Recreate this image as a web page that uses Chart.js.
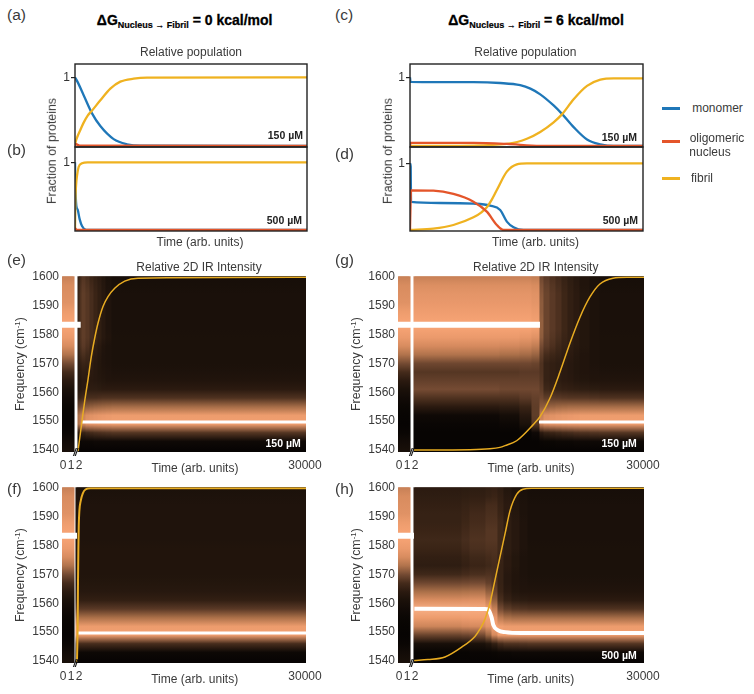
<!DOCTYPE html>
<html>
<head>
<meta charset="utf-8">
<title>Relative population and 2D IR intensity</title>
<script src="https://cdn.jsdelivr.net/npm/chart.js@4/dist/chart.umd.min.js"></script>
<style>
  html, body { margin: 0; padding: 0; background: #fff; }
  #page { position: relative; width: 754px; height: 694px; overflow: hidden; font-family: "Liberation Sans", Arial, sans-serif; color: #3a3a3a; }
  canvas { position: absolute; }
  .txt { position: absolute; white-space: nowrap; transform: translate(-50%, -50%); font-size: 12px; line-height: 1; z-index: 5; }
  .rot { transform: translate(-50%, -50%) rotate(-90deg); font-size: 12.4px; }
  .letter { font-size: 15.5px; transform: translate(0, -50%); }
  .head { font-size: 14px; font-weight: bold; color: #000; -webkit-text-stroke: 0.3px #000; }
  .head sub { font-size: 9px; vertical-align: -3px; -webkit-text-stroke: 0.2px #000; }
  .conc { font-size: 10.5px; font-weight: bold; color: #222; transform: translate(-100%, -50%); }
  .brk { font-size: 10px; font-weight: bold; font-style: italic; color: #111; letter-spacing: -1px; }
  .swatch { position: absolute; width: 18px; height: 2.5px; }
  sup { font-size: 8px; vertical-align: 4px; line-height: 0; }
</style>
</head>
<body>
<div id="page"></div>
<script>
// Relative population curves, time in arb. units (panels a-d)
const monomerTimeA = [0, 345, 1120, 2200, 3275, 5000, 6720, 8450, 30000];
const monomerA = [1, 0.93, 0.74, 0.475, 0.29, 0.10, 0.025, 0.003, 0];
const fibrilTimeA = [0, 86, 345, 690, 1120, 1640, 2200, 3275, 4570, 5860, 7590, 9310, 30000];
const fibrilA = [0, 0.06, 0.145, 0.233, 0.34, 0.442, 0.515, 0.665, 0.835, 0.937, 0.98, 0.995, 1];
const oligomerTimeA = [0, 86, 300, 690, 30000];
const oligomerA = [0, 0.03, 0.02, 0.005, 0];

const monomerTimeB = [0, 43, 170, 345, 600, 905, 1465, 30000];
const monomerB = [1, 0.7, 0.36, 0.3, 0.16, 0.06, 0, 0];
const fibrilTimeB = [0, 43, 130, 260, 470, 905, 1640, 30000];
const fibrilB = [0, 0.4, 0.65, 0.8, 0.93, 0.985, 1, 1];
const oligomerTimeB = [0, 60, 200, 30000];
const oligomerB = [0, 0.02, 0, 0];

const monomerTimeC = [0, 60, 8170, 11610, 14190, 15500, 16770, 18490, 19565, 21070, 22790, 24510, 26230, 30000];
const monomerC = [1, 0.935, 0.93, 0.917, 0.885, 0.835, 0.752, 0.59, 0.468, 0.275, 0.095, 0.024, 0, 0];
const fibrilTimeC = [0, 8170, 12470, 13800, 15050, 16770, 18490, 19565, 21070, 22790, 24510, 26230, 30000];
const fibrilC = [0, 0.005, 0.03, 0.058, 0.105, 0.205, 0.345, 0.46, 0.68, 0.875, 0.965, 0.985, 0.985];
const oligomerTimeC = [0, 60, 8170, 12470, 16770, 30000];
const oligomerC = [0, 0.045, 0.045, 0.03, 0.002, 0];

const monomerTimeD = [0, 90, 130, 3870, 8170, 10320, 11610, 12470, 13330, 14620, 30000];
const monomerD = [1, 0.95, 0.42, 0.405, 0.395, 0.365, 0.30, 0.125, 0.04, 0, 0];
const fibrilTimeD = [0, 3010, 5590, 8170, 9200, 9890, 10550, 11180, 12470, 13760, 15050, 30000];
const fibrilD = [0, 0.02, 0.075, 0.19, 0.265, 0.34, 0.46, 0.6, 0.875, 0.985, 1, 1];
const oligomerTimeD = [0, 90, 130, 3010, 5590, 8170, 9890, 11180, 12040, 30000];
const oligomerD = [0, 0.5, 0.595, 0.59, 0.54, 0.425, 0.275, 0.075, 0, 0];

// Fibril overlay on the 2D IR maps, plotted on the frequency axis
const overlayTimeE = [0, 440, 880, 1316, 1755, 2195, 2630, 3290, 3950, 4830, 6145, 7900, 30000];
const overlayE = [1539.6, 1548.3, 1556.9, 1564.4, 1572.4, 1578.7, 1583.9, 1589.7, 1593.1, 1596, 1598.5, 1599.5, 1599.8];
const overlayTimeF = [0, 100, 130, 180, 230, 310, 480, 750, 1110, 1770, 30000];
const overlayF = [1539.7, 1555.7, 1567, 1578.7, 1586.8, 1592, 1595.4, 1598, 1599.4, 1599.8, 1599.8];
const overlayTimeG = [0, 7300, 9910, 11210, 11870, 13390, 15520, 16430, 17730, 19040, 20340, 21650, 22950, 24250, 25950, 27800, 30000];
const overlayG = [1540, 1540.1, 1540.4, 1540.9, 1541.5, 1543.2, 1548.7, 1551.5, 1557.9, 1567, 1577, 1586, 1593, 1597.5, 1599.5, 1599.8, 1599.8];
const overlayTimeH = [0, 1830, 4040, 6220, 7950, 8600, 9260, 9910, 10130, 10780, 11870, 12520, 13390, 14210, 15350, 30000];
const overlayH = [1540.2, 1540.5, 1541.4, 1544.8, 1548.5, 1551, 1554.5, 1560, 1562.6, 1570.7, 1584, 1592, 1597.7, 1599.5, 1599.8, 1599.8];

// White ridge lines (frequency of the intensity maximum)
const ridgeStrip = 1583.4;
const ridgeEndTimes = { e: 355, f: 0, g: 16430, h: 0 };
const ridgeFibril = 1549.7;
const ridgeStartTimes = { e: 526, f: 130, g: 16300 };
const ridgeTimeH = [50, 9260, 9650, 10130, 10340, 10990, 11900, 14000, 30000];
const ridgeH = [1558.1, 1558, 1557.8, 1555, 1552.5, 1550.6, 1550, 1549.7, 1549.7];

// Intensity spectra, one value per node of freqNodes (0 black, 100 full orange)
const freqNodes = [1540, 1543, 1546, 1549, 1552, 1555, 1558, 1561, 1564, 1567, 1570, 1573, 1576, 1579, 1582, 1585, 1588, 1591, 1594, 1597, 1600];
const spectra = {
  strip:  [12, 8, 3, 1, 2, 4, 8, 14, 22, 34, 52, 72, 86, 95, 100, 100, 96, 90, 88, 86, 80],
  final:  [1, 6, 40, 98, 96, 68, 38, 22, 17, 15, 14, 14, 14, 14, 13, 13, 13, 13, 13, 12, 11],
  finalF: [1, 5, 35, 98, 96, 70, 42, 26, 20, 18, 17, 17, 17, 17, 16, 16, 16, 16, 16, 15, 14],
  eT0: [1, 4, 20, 70, 70, 48, 28, 18, 17, 18, 20, 24, 28, 30, 30, 30, 30, 30, 30, 28, 26],
  eTa: [1, 4, 24, 78, 76, 52, 30, 20, 19, 22, 26, 32, 36, 38, 38, 38, 38, 38, 38, 36, 33],
  eT1: [1, 5, 28, 85, 82, 56, 33, 22, 22, 25, 30, 36, 42, 44, 44, 44, 44, 44, 44, 42, 39],
  eT2: [1, 5, 32, 92, 88, 60, 36, 24, 22, 24, 28, 32, 37, 40, 40, 40, 40, 40, 40, 38, 35],
  eTb: [1, 5, 34, 94, 90, 62, 36, 24, 21, 22, 24, 27, 31, 35, 35, 35, 35, 35, 35, 33, 30],
  eT3: [1, 6, 36, 95, 92, 64, 36, 24, 20, 20, 20, 22, 25, 30, 30, 30, 30, 30, 30, 28, 26],
  eTc: [1, 6, 37, 96, 93, 65, 37, 23, 19, 18, 18, 19, 21, 25, 25, 25, 25, 25, 25, 24, 22],
  eT4: [1, 6, 38, 97, 94, 66, 38, 22, 18, 17, 16, 16, 17, 20, 20, 20, 20, 20, 20, 19, 18],
  eTd: [1, 6, 39, 97, 95, 67, 38, 22, 17, 16, 15, 15, 15, 17, 16, 16, 16, 16, 16, 15, 14],
  gP:  [1, 1, 1, 3, 6, 22, 38, 52, 46, 40, 50, 72, 85, 95, 100, 100, 97, 94, 92, 88, 80],
  gP2: [1, 1, 1, 5, 10, 24, 38, 50, 46, 40, 50, 70, 84, 95, 100, 100, 97, 94, 92, 88, 80],
  gP3: [1, 1, 2, 14, 20, 30, 42, 50, 46, 42, 50, 68, 82, 93, 100, 100, 97, 94, 92, 88, 80],
  gP4: [1, 1, 6, 40, 44, 44, 46, 50, 46, 42, 48, 64, 78, 90, 98, 98, 95, 92, 90, 86, 78],
  gQ1: [1, 3, 22, 85, 80, 60, 50, 44, 40, 38, 38, 44, 52, 60, 62, 62, 60, 60, 58, 55, 50],
  gQ2: [1, 4, 28, 92, 88, 62, 44, 32, 28, 28, 28, 34, 42, 46, 48, 48, 48, 48, 48, 46, 42],
  gQa: [1, 4, 30, 94, 90, 64, 43, 30, 26, 26, 26, 31, 37, 40, 42, 42, 42, 42, 42, 40, 37],
  gQ3: [1, 5, 32, 95, 92, 66, 42, 28, 24, 24, 24, 28, 32, 35, 37, 37, 37, 37, 37, 35, 33],
  gQb: [1, 5, 34, 96, 93, 67, 41, 27, 22, 22, 22, 25, 28, 30, 31, 31, 31, 31, 31, 30, 28],
  gQ4: [1, 5, 35, 97, 94, 68, 40, 26, 21, 20, 20, 22, 24, 26, 26, 26, 26, 26, 26, 25, 24],
  gQc: [1, 6, 37, 97, 95, 68, 40, 25, 19, 18, 18, 19, 21, 22, 22, 22, 22, 22, 22, 21, 20],
  gQ5: [1, 6, 38, 98, 96, 68, 40, 24, 18, 17, 17, 17, 18, 18, 18, 18, 18, 18, 18, 17, 17],
  gQd: [1, 6, 39, 98, 96, 68, 39, 23, 17, 16, 15, 15, 15, 15, 15, 15, 15, 15, 15, 14, 14],
  hP:  [1, 2, 12, 48, 82, 96, 105, 88, 70, 50, 32, 24, 26, 30, 32, 30, 28, 28, 26, 24, 22],
  hP2: [1, 2, 13, 50, 84, 97, 105, 89, 71, 51, 34, 27, 29, 33, 35, 33, 31, 30, 28, 25, 23],
  hQ:  [1, 3, 14, 52, 85, 98, 104, 90, 72, 52, 36, 30, 32, 36, 38, 36, 34, 33, 30, 26, 24],
  hR:  [1, 3, 18, 65, 92, 100, 98, 80, 62, 46, 38, 32, 34, 38, 40, 40, 38, 36, 34, 28, 26],
  hS:  [1, 4, 26, 85, 100, 94, 80, 62, 48, 40, 36, 34, 36, 38, 40, 40, 38, 36, 34, 30, 27],
  hT:  [1, 5, 34, 98, 98, 76, 52, 36, 30, 28, 28, 28, 30, 32, 32, 32, 32, 30, 28, 26, 24],
  hU:  [1, 5, 38, 98, 96, 70, 44, 28, 22, 20, 20, 22, 22, 24, 24, 24, 24, 22, 22, 20, 18],
  hV:  [1, 6, 38, 98, 96, 68, 40, 24, 18, 17, 17, 18, 18, 20, 20, 20, 20, 19, 18, 17, 15],
  hW:  [1, 6, 39, 98, 96, 68, 39, 23, 17, 16, 15, 15, 15, 16, 16, 16, 16, 15, 15, 14, 13]
};

// Which spectrum each run of time columns uses, left to right (null = axis break)
const columnsE = [["strip", 6], [null, 2], ["eT0", 1], ["eTa", 1], ["eT1", 2], ["eT2", 2], ["eTb", 2], ["eT3", 2], ["eTc", 2], ["eT4", 2], ["eTd", 3], ["final", 97]];
const columnsF = [["strip", 6], [null, 1], ["finalF", 115]];
const columnsG = [["strip", 6], [null, 2], ["gP", 43], ["gP2", 10], ["gP3", 6], ["gP4", 4], ["gQ1", 2], ["gQ2", 3], ["gQa", 3], ["gQ3", 3], ["gQb", 3], ["gQ4", 3], ["gQc", 3], ["gQ5", 5], ["gQd", 5], ["final", 22]];
const columnsH = [["strip", 6], [null, 2], ["hP", 24], ["hP2", 4], ["hQ", 8], ["hR", 3], ["hS", 3], ["hT", 3], ["hU", 4], ["hV", 4], ["hW", 4], ["final", 58]];

const freqTicks = [1540, 1550, 1560, 1570, 1580, 1590, 1600];
const timeTickLabels = { 0: "0", 4: "1", 8: "2" };

// intensity -> colour
const colormap = [[0, [5, 3, 2]], [15, [29, 18, 11]], [30, [58, 36, 22]], [50, [111, 71, 48]], [70, [171, 112, 73]], [85, [214, 138, 94]], [100, [245, 162, 115]], [115, [252, 201, 168]]];

const BLUE = "#1f77b8", RED = "#e4552a", YELLOW = "#efb220", OVERLAY = "#e8ac22";

const page = document.getElementById("page");

function label(text, x, y, cls, color) {
  const d = document.createElement("div");
  d.className = "txt " + (cls || "");
  d.innerHTML = text;
  d.style.left = x + "px";
  d.style.top = y + "px";
  if (color) d.style.color = color;
  page.appendChild(d);
}

function addCanvas(left, top, w, h) {
  const c = document.createElement("canvas");
  c.width = w;
  c.height = h;
  c.style.left = left + "px";
  c.style.top = top + "px";
  c.style.width = w + "px";
  c.style.height = h + "px";
  page.appendChild(c);
  return c;
}

function zip(xs, ys) {
  return xs.map((x, i) => ({ x, y: ys[i] }));
}

function intensityColor(v) {
  let i = 0;
  while (i < colormap.length - 2 && v > colormap[i + 1][0]) i++;
  const [v0, c0] = colormap[i], [v1, c1] = colormap[i + 1];
  const f = Math.min(1, Math.max(0, (v - v0) / (v1 - v0)));
  return "rgb(" + c0.map((c, k) => Math.round(c + (c1[k] - c) * f)).join(",") + ")";
}

// frame round the population plots
const framePlugin = {
  id: "frame",
  afterDraw(chart) {
    const a = chart.chartArea, ctx = chart.ctx;
    ctx.save();
    ctx.strokeStyle = "#222";
    ctx.lineWidth = 1.4;
    ctx.strokeRect(a.left, a.top, a.right - a.left, a.bottom - a.top);
    ctx.restore();
  }
};

function populationChart(plot, yMin, yMax, curves) {
  const canvas = addCanvas(plot.left - 30, plot.top - 10, plot.right - plot.left + 40, plot.bottom - plot.top + 20);
  const ds = (data, color, order) => ({
    data, borderColor: color, borderWidth: 2.3, pointRadius: 0, cubicInterpolationMode: "monotone", order
  });
  new Chart(canvas, {
    type: "line",
    data: { datasets: [ds(curves.monomer, BLUE, 3), ds(curves.fibril, YELLOW, 2), ds(curves.oligomer, RED, 1)] },
    options: {
      responsive: false,
      animation: false,
      layout: { padding: { top: 10, bottom: 10, right: 10 } },
      plugins: { legend: { display: false }, tooltip: { enabled: false } },
      scales: {
        x: { type: "linear", min: 0, max: 30000, display: false },
        y: {
          min: yMin, max: yMax,
          afterBuildTicks: s => { s.ticks = [{ value: 1 }]; },
          afterFit: s => { s.width = 30; },
          border: { display: false },
          grid: { drawOnChartArea: false, tickLength: 4, color: "#222", lineWidth: 1.2 },
          ticks: { padding: 1, color: "#333", font: { size: 12, family: "Liberation Sans" }, callback: v => String(v) }
        }
      }
    },
    plugins: [framePlugin]
  });
}

function heatChart(plot, runs, tMin, lines) {
  const canvas = addCanvas(plot.left - 45, plot.top - 10, plot.right - plot.left + 75, plot.bottom - plot.top + 34);
  const columns = [];
  runs.forEach(([name, n]) => { for (let i = 0; i < n; i++) columns.push(name); });
  const labels = columns.map((c, i) => i === columns.length - 1 ? "30000" : (timeTickLabels[i] || ""));
  const yMin = 1539.3, yMax = 1600.2;
  const gradients = {};
  // vertical gradient through the spectrum of a column, positioned by the y scale
  function columnFill(ctx) {
    const name = columns[ctx.dataIndex];
    const chart = ctx.chart;
    if (!name || !chart.chartArea) return "rgba(0,0,0,0)";
    if (gradients[name]) return gradients[name];
    const y = chart.scales.y;
    const top = y.getPixelForValue(yMax), bottom = y.getPixelForValue(yMin);
    const g = chart.ctx.createLinearGradient(0, bottom, 0, top);
    freqNodes.forEach((f, i) => {
      const stop = (y.getPixelForValue(f) - bottom) / (top - bottom);
      g.addColorStop(Math.min(1, Math.max(0, stop)), intensityColor(spectra[name][i]));
    });
    gradients[name] = g;
    return g;
  }
  const lineSets = lines.map(l => ({
    type: "line", data: l.data, xAxisID: "xt", yAxisID: "y", borderColor: l.color, borderWidth: l.width,
    pointRadius: 0, order: l.order, cubicInterpolationMode: l.smooth ? "monotone" : "default", borderCapStyle: "butt"
  }));
  new Chart(canvas, {
    data: {
      labels,
      datasets: [{
        type: "bar", data: columns.map(c => c ? [yMin, yMax] : null), backgroundColor: columnFill,
        borderWidth: 0, barThickness: 2.4, grouped: false, order: 9
      }].concat(lineSets)
    },
    options: {
      responsive: false,
      animation: false,
      layout: { padding: { top: 10, right: 30 } },
      plugins: { legend: { display: false }, tooltip: { enabled: false } },
      scales: {
        x: {
          type: "category", offset: true, grid: { display: false, drawTicks: false }, border: { display: false },
          afterFit: s => { s.height = 24; },
          ticks: { autoSkip: false, maxRotation: 0, minRotation: 0, padding: 6, color: "#3a3a3a", font: { size: 12, family: "Liberation Sans" } }
        },
        xt: { type: "linear", display: false, min: tMin, max: 30000 },
        y: {
          min: yMin, max: yMax,
          afterBuildTicks: s => { s.ticks = freqTicks.map(value => ({ value })); },
          afterFit: s => { s.width = 45; },
          grid: { display: false, drawTicks: false }, border: { display: false },
          ticks: { padding: 3, color: "#3a3a3a", font: { size: 12, family: "Liberation Sans" }, callback: v => String(v) }
        }
      }
    }
  });
}

const whiteLine = (data, width, smooth) => ({ data, color: "#fff", width, order: 3, smooth });

// panels a-d
populationChart({ left: 75, right: 307, top: 64, bottom: 147 }, -0.015, 1.194, {
  monomer: zip(monomerTimeA, monomerA), fibril: zip(fibrilTimeA, fibrilA), oligomer: zip(oligomerTimeA, oligomerA)
});
populationChart({ left: 75, right: 307, top: 147, bottom: 231 }, -0.015, 1.226, {
  monomer: zip(monomerTimeB, monomerB), fibril: zip(fibrilTimeB, fibrilB), oligomer: zip(oligomerTimeB, oligomerB)
});
populationChart({ left: 410, right: 643, top: 64, bottom: 147 }, -0.015, 1.194, {
  monomer: zip(monomerTimeC, monomerC), fibril: zip(fibrilTimeC, fibrilC), oligomer: zip(oligomerTimeC, oligomerC)
});
populationChart({ left: 410, right: 643, top: 147, bottom: 231 }, -0.015, 1.244, {
  monomer: zip(monomerTimeD, monomerD), fibril: zip(fibrilTimeD, fibrilD), oligomer: zip(oligomerTimeD, oligomerD)
});

// panels e-h
heatChart({ left: 62, right: 306, top: 276, bottom: 452 }, columnsE, -2105, [
  whiteLine([{ x: -2105, y: ridgeStrip }, { x: ridgeEndTimes.e, y: ridgeStrip }], 6),
  whiteLine([{ x: ridgeStartTimes.e, y: ridgeFibril }, { x: 30000, y: ridgeFibril }], 3),
  { data: zip(overlayTimeE, overlayE), color: OVERLAY, width: 1.5, order: 1, smooth: true }
]);
heatChart({ left: 62, right: 306, top: 487, bottom: 663 }, columnsF, -1965, [
  whiteLine([{ x: -1965, y: ridgeStrip }, { x: ridgeEndTimes.f, y: ridgeStrip }], 6),
  whiteLine([{ x: ridgeStartTimes.f, y: ridgeFibril }, { x: 30000, y: ridgeFibril }], 3),
  { data: zip(overlayTimeF, overlayF), color: OVERLAY, width: 2, order: 1, smooth: true }
]);
heatChart({ left: 398, right: 644, top: 276, bottom: 452 }, columnsG, -2087, [
  whiteLine([{ x: -2087, y: ridgeStrip }, { x: ridgeEndTimes.g, y: ridgeStrip }], 6),
  whiteLine([{ x: ridgeStartTimes.g, y: ridgeFibril }, { x: 30000, y: ridgeFibril }], 3),
  { data: zip(overlayTimeG, overlayG), color: OVERLAY, width: 1.5, order: 1, smooth: true }
]);
heatChart({ left: 398, right: 644, top: 487, bottom: 663 }, columnsH, -2087, [
  whiteLine([{ x: -2087, y: ridgeStrip }, { x: ridgeEndTimes.h, y: ridgeStrip }], 6),
  whiteLine(zip(ridgeTimeH, ridgeH), 4, true),
  { data: zip(overlayTimeH, overlayH), color: OVERLAY, width: 1.5, order: 1, smooth: true }
]);

// panel letters
[["(a)", 7, 15], ["(b)", 7, 150], ["(c)", 335, 15], ["(d)", 335, 154], ["(e)", 7, 260], ["(f)", 7, 489], ["(g)", 335, 260], ["(h)", 335, 489]]
  .forEach(([t, x, y]) => label(t, x, y, "letter"));

const headSub = "<sub>Nucleus \u2192 Fibril</sub>";
label("\u0394G" + headSub + " = 0 kcal/mol", 184.7, 21, "head");
label("\u0394G" + headSub + " = 6 kcal/mol", 536, 21, "head");

label("Relative population", 191, 52);
label("Relative population", 525.3, 52);
label("Relative 2D IR Intensity", 199, 266.7);
label("Relative 2D IR Intensity", 535.7, 266.7);

label("Fraction of proteins", 52, 150.5, "rot");
label("Fraction of proteins", 388, 150.5, "rot");
label("Frequency (cm<sup>-1</sup>)", 20, 363.8, "rot");
label("Frequency (cm<sup>-1</sup>)", 355.7, 363.8, "rot");
label("Frequency (cm<sup>-1</sup>)", 20, 574.7, "rot");
label("Frequency (cm<sup>-1</sup>)", 355.7, 574.7, "rot");

[[200, 241.7], [535.5, 241.7], [195, 467.7], [531, 467.7], [194.7, 679.3], [530.8, 679.3]]
  .forEach(([x, y]) => label("Time (arb. units)", x, y));

label("150 \u00b5M", 303, 134.7, "conc");
label("500 \u00b5M", 302, 220, "conc");
label("150 \u00b5M", 637, 136.7, "conc");
label("500 \u00b5M", 638, 220, "conc");
label("150 \u00b5M", 300.7, 443, "conc", "#fff");
label("150 \u00b5M", 636.7, 443, "conc", "#fff");
label("500 \u00b5M", 636.7, 655, "conc", "#fff");

// axis break marks
[[75, 453], [75, 664], [411, 453], [411, 664]].forEach(([x, y]) => label("//", x, y, "brk"));

// legend
[[BLUE, 108], [RED, 141], [YELLOW, 178]].forEach(([color, y]) => {
  const s = document.createElement("div");
  s.className = "swatch";
  s.style.left = "662px";
  s.style.top = (y - 1) + "px";
  s.style.background = color;
  page.appendChild(s);
});
label("monomer", 717.5, 108);
label("oligomeric", 717, 138);
label("nucleus", 710, 152);
label("fibril", 702, 178);
</script>
</body>
</html>
